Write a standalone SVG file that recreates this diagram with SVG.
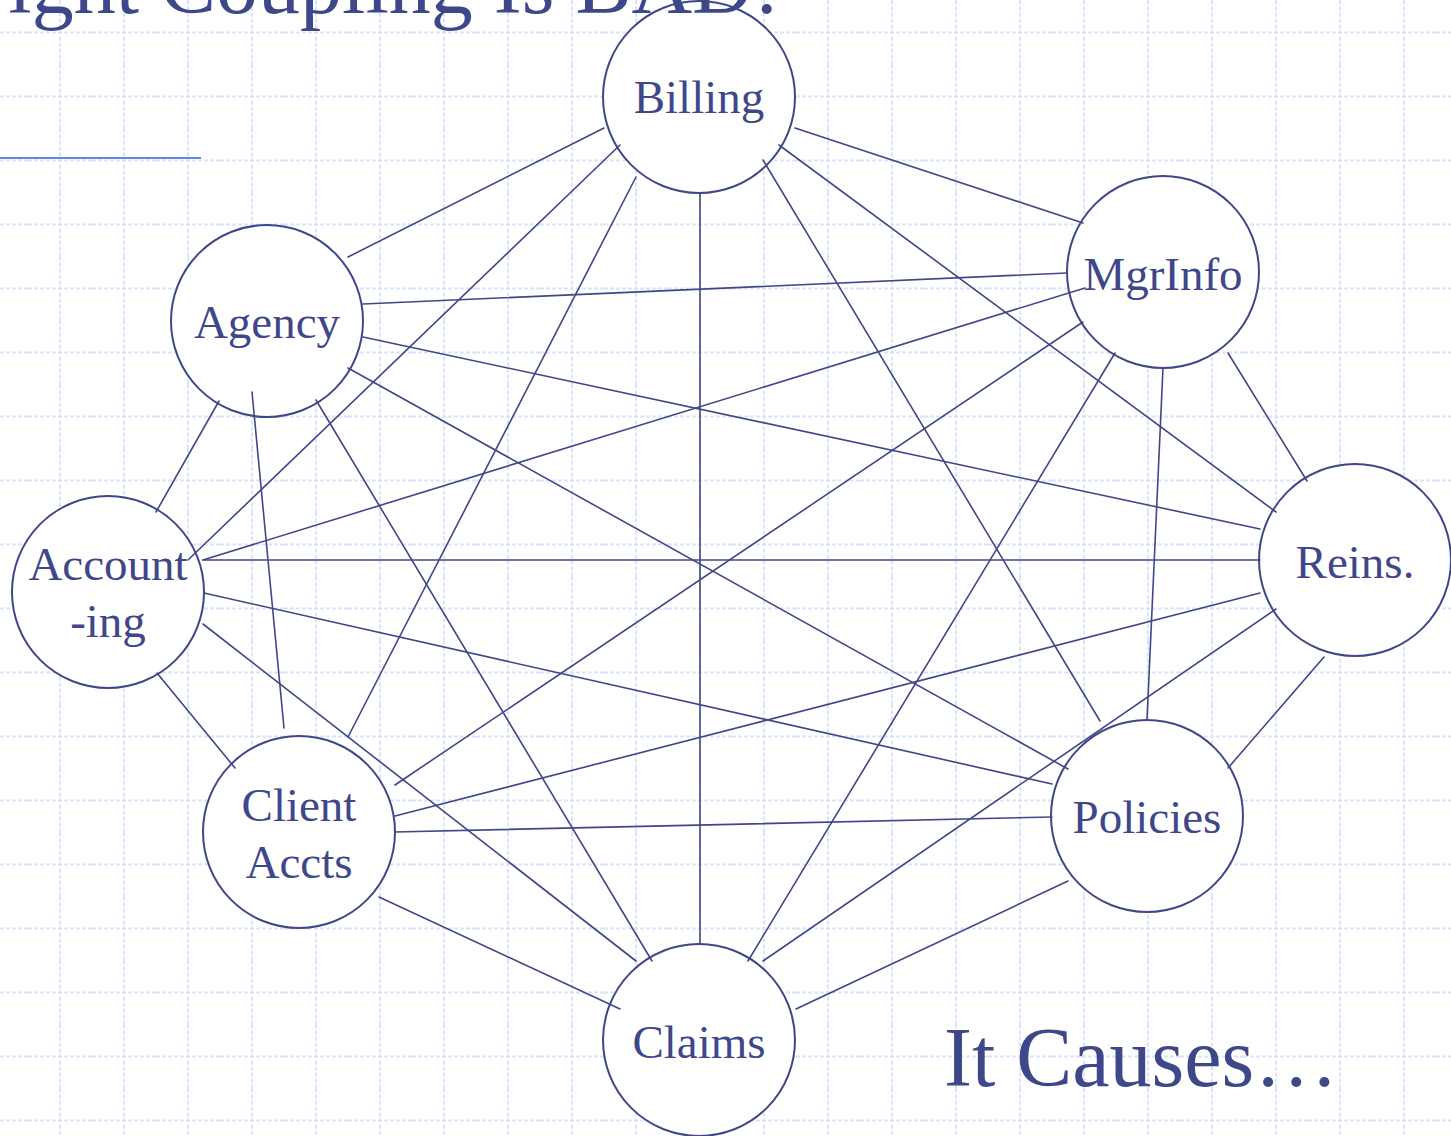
<svg xmlns="http://www.w3.org/2000/svg" width="1451" height="1136" viewBox="0 0 1451 1136">
  <defs>
    <!-- 64px dotted background grid; lines sit mid-tile so they are not clipped -->
    <pattern id="grid" x="28" y="0.5" width="64" height="64" patternUnits="userSpaceOnUse">
      <line x1="0" y1="32" x2="64" y2="32" stroke="#d9e3fd" stroke-width="2" stroke-dasharray="4 2"/>
      <line x1="32" y1="0" x2="32" y2="64" stroke="#d9e3fd" stroke-width="2" stroke-dasharray="4 2"/>
    </pattern>
  </defs>
  <style>
    .node circle { fill: #ffffff; stroke: #3f478b; stroke-width: 2; }
    .node text { font-family: "Liberation Serif", "Times New Roman", serif; font-size: 47px; fill: #3f478b; text-anchor: middle; }
    #connectors line { stroke: #3f478b; stroke-width: 1.6; stroke-linecap: round; }
    .heading { font-family: "Liberation Serif", "Times New Roman", serif; font-size: 84px; fill: #3f478b; }
  </style>

  <rect width="1451" height="1136" fill="#ffffff"/>
  <rect width="1451" height="1136" fill="url(#grid)"/>

  <!-- title rule -->
  <line x1="0" y1="158" x2="201" y2="158" stroke="#6583ee" stroke-width="2"/>

  <g id="node-billing" class="node"><circle cx="699" cy="97" r="96"/></g>
  <g id="node-mgrinfo" class="node"><circle cx="1163" cy="272" r="96"/></g>
  <g id="node-agency" class="node"><circle cx="267" cy="321" r="96"/></g>
  <g id="node-accounting" class="node"><circle cx="108" cy="592" r="96"/></g>
  <g id="node-reins" class="node"><circle cx="1355" cy="560" r="96"/></g>
  <g id="node-clientaccts" class="node"><circle cx="299" cy="832" r="96"/></g>
  <g id="node-policies" class="node"><circle cx="1147" cy="816" r="96"/></g>
  <g id="node-claims" class="node"><circle cx="699" cy="1040" r="96"/></g>

  <g id="connectors">
    <line x1="604" y1="128" x2="348" y2="257"/>
    <line x1="620" y1="145" x2="188" y2="560"/>
    <line x1="636" y1="177" x2="348" y2="737"/>
    <line x1="700" y1="193" x2="700" y2="944"/>
    <line x1="763" y1="160" x2="1100" y2="721"/>
    <line x1="779" y1="145" x2="1276" y2="512"/>
    <line x1="795" y1="128" x2="1083" y2="223"/>
    <line x1="363" y1="304" x2="1067" y2="273"/>
    <line x1="363" y1="337" x2="1260" y2="529"/>
    <line x1="348" y1="368" x2="1068" y2="769"/>
    <line x1="316" y1="400" x2="652" y2="961"/>
    <line x1="252" y1="392" x2="284" y2="728"/>
    <line x1="219" y1="401" x2="156" y2="512"/>
    <line x1="203" y1="560" x2="1085" y2="288"/>
    <line x1="203" y1="560" x2="1260" y2="560"/>
    <line x1="204" y1="593" x2="1052" y2="784"/>
    <line x1="203" y1="624" x2="636" y2="961"/>
    <line x1="157" y1="673" x2="235" y2="768"/>
    <line x1="1083" y1="322" x2="395" y2="785"/>
    <line x1="1115" y1="353" x2="748" y2="961"/>
    <line x1="1163" y1="368" x2="1147" y2="720"/>
    <line x1="1228" y1="353" x2="1307" y2="481"/>
    <line x1="1260" y1="593" x2="395" y2="816"/>
    <line x1="1276" y1="609" x2="763" y2="961"/>
    <line x1="1324" y1="657" x2="1228" y2="768"/>
    <line x1="395" y1="832" x2="1052" y2="817"/>
    <line x1="379" y1="897" x2="620" y2="1009"/>
    <line x1="1068" y1="881" x2="796" y2="1009"/>
  </g>

  <!-- node labels -->
  <g class="node"><text x="699" y="113">Billing</text></g>
  <g class="node"><text x="1163" y="290">MgrInfo</text></g>
  <g class="node"><text x="267" y="338">Agency</text></g>
  <g class="node"><text x="108" y="580">Account</text><text x="108" y="637">-ing</text></g>
  <g class="node"><text x="1355" y="578">Reins.</text></g>
  <g class="node"><text x="299" y="821">Client</text><text x="299" y="878">Accts</text></g>
  <g class="node"><text x="1147" y="833">Policies</text></g>
  <g class="node"><text x="699" y="1058">Claims</text></g>

  <text class="heading" x="-40" y="13">Tight Coupling Is BAD!</text>
  <text class="heading" x="944" y="1086">It Causes…</text>
</svg>
